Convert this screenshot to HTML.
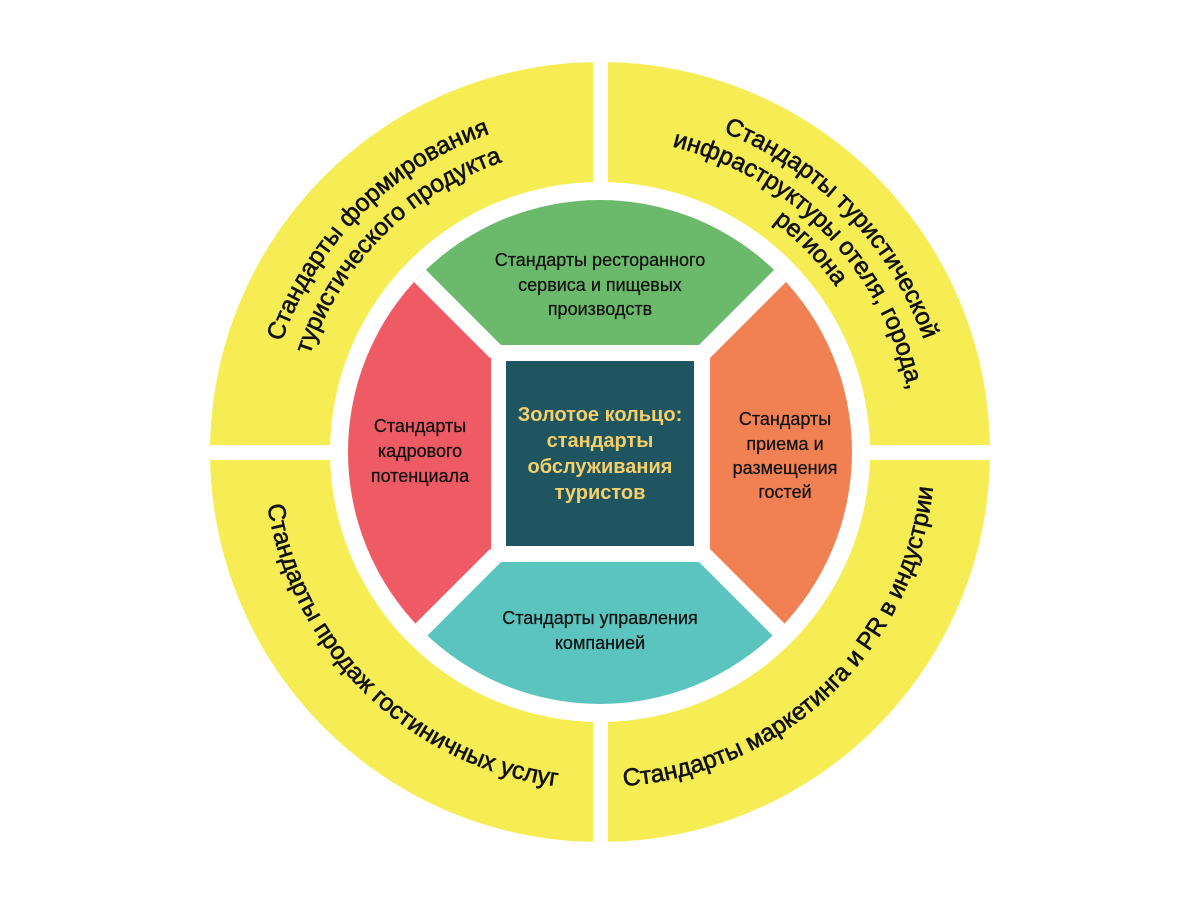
<!DOCTYPE html>
<html><head><meta charset="utf-8"><style>
html,body{margin:0;padding:0;background:#fff;}
svg{display:block;}
text{font-family:"Liberation Sans",sans-serif;}
</style></head><body>
<svg width="1200" height="900" viewBox="0 0 1200 900" xmlns="http://www.w3.org/2000/svg">
<defs>
<clipPath id="inner"><circle cx="600" cy="452" r="252"/></clipPath>
<path id="tl1" d="M361,691 A338,338 0 0 1 839,213"/>
<path id="tl2" d="M383.6,668.4 A306,306 0 0 1 816.4,235.6"/>
<path id="tr1" d="M358.3,201.7 A348,348 0 0 1 841.7,702.3"/>
<path id="tr2" d="M379.1,223.3 A318,318 0 0 1 820.9,680.7"/>
<path id="tr3" d="M399.9,244.8 A288,288 0 0 1 800.1,659.2"/>
<path id="bl" d="M361.7,213.7 A337,337 0 0 0 838.3,690.3"/>
<path id="br" d="M359,684.7 A335,335 0 0 0 841,219.3"/>
</defs>
<circle cx="600" cy="452" r="390" fill="#f6ed55"/>
<circle cx="600" cy="452" r="270" fill="#fff"/>
<rect x="593" y="40" width="15" height="830" fill="#fff"/>
<rect x="190" y="445" width="820" height="15" fill="#fff"/>

<g font-size="24.5" fill="#111" stroke="#111" stroke-width="0.6">
<text><textPath href="#tl1" startOffset="50%" text-anchor="middle">Стандарты формирования</textPath></text>
<text><textPath href="#tl2" startOffset="50%" text-anchor="middle">туристического продукта</textPath></text>
<text><textPath href="#tr1" startOffset="50%" text-anchor="middle">Стандарты туристической</textPath></text>
<text><textPath href="#tr2" startOffset="50%" text-anchor="middle">инфраструктуры отеля, города,</textPath></text>
<text><textPath href="#tr3" startOffset="50%" text-anchor="middle">региона</textPath></text>
<text><textPath href="#bl" startOffset="50.5%" text-anchor="middle">Стандарты продаж гостиничных услуг</textPath></text>
<text><textPath href="#br" startOffset="50%" text-anchor="middle">Стандарты маркетинга и PR в индустрии</textPath></text>
</g>

<g clip-path="url(#inner)">
<polygon points="496,352 196,52 1004,52 704,352" fill="#6bb96a"/>
<polygon points="704,352 1004,52 1004,855 704,555" fill="#f18153"/>
<polygon points="704,555 1004,855 196,855 496,555" fill="#5bc4be"/>
<polygon points="496,555 196,855 196,52 496,352" fill="#ef5b64"/>
<g stroke="#fff" stroke-width="17">
<line x1="496" y1="352" x2="196" y2="52"/>
<line x1="704" y1="352" x2="1004" y2="52"/>
<line x1="496" y1="555" x2="196" y2="855"/>
<line x1="704" y1="555" x2="1004" y2="855"/>
</g>
<rect x="491" y="345" width="219" height="217" fill="#fff"/>
</g>
<rect x="506" y="361" width="188" height="185" fill="#1f5560"/>

<g font-size="18" fill="#111" stroke="#111" stroke-width="0.25" text-anchor="middle">
<text x="600" y="266">Стандарты ресторанного</text>
<text x="600" y="291">сервиса и пищевых</text>
<text x="600" y="315">производств</text>
<text x="420" y="432">Стандарты</text>
<text x="420" y="457">кадрового</text>
<text x="420" y="482">потенциала</text>
<text x="785" y="425">Стандарты</text>
<text x="785" y="450">приема и</text>
<text x="785" y="474">размещения</text>
<text x="785" y="498">гостей</text>
<text x="600" y="624">Стандарты управления</text>
<text x="600" y="649">компанией</text>
</g>
<g font-size="20" font-weight="bold" fill="#f5cf6a" text-anchor="middle">
<text x="600" y="421">Золотое кольцо:</text>
<text x="600" y="447">стандарты</text>
<text x="600" y="473">обслуживания</text>
<text x="600" y="499">туристов</text>
</g>
</svg>
</body></html>
